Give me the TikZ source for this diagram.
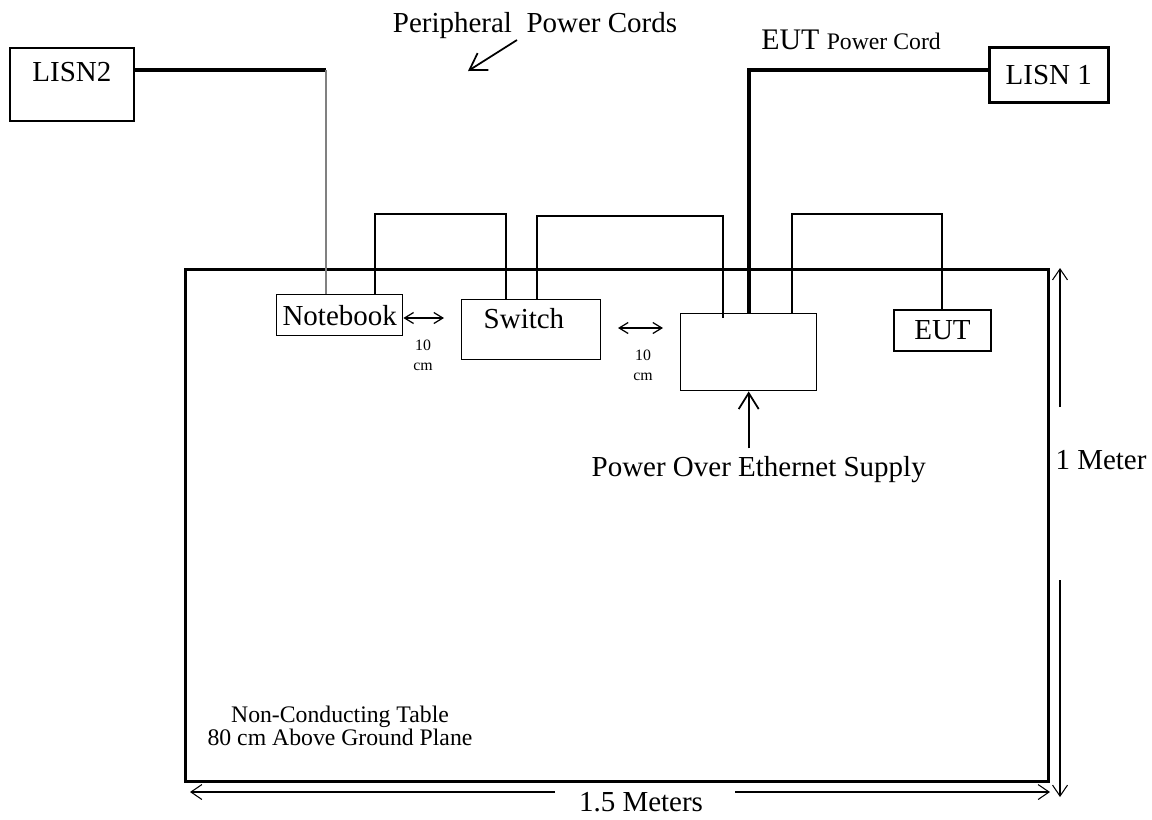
\documentclass[tikz,border=0pt]{standalone}
\usepackage{fontspec}
\setmainfont{Liberation Serif}
\usetikzlibrary{arrows.meta,positioning}

\begin{document}
\begin{tikzpicture}[x=0.02cm, y=-0.02cm, every node/.style={font=\fontsize{16.5}{19.8}\selectfont, inner sep=0pt},
    unit/.style={draw, line width=0.8pt, anchor=north west},
    cord/.style={line width=2.5pt},
    cable/.style={line width=1.1pt},
    gap/.style={line width=0.7pt, {Straight Barb[length=1.8mm,width=2.2mm]}-{Straight Barb[length=1.8mm,width=2.2mm]}},
    span/.style={line width=0.6pt, -{Straight Barb[length=2.2mm,width=3mm]}},
    pointer/.style={line width=1pt, -{Straight Barb[length=3.2mm,width=4mm]}},
    note/.style={font=\fontsize{9}{11.3}\selectfont, align=center}]
  \useasboundingbox (0,0) rectangle (1152,819);

  % table
  \node[draw, line width=1.7pt, anchor=north west, minimum width=17.26cm, minimum height=10.24cm] (table) at (184,268) {};
  \node[font=\fontsize{13.5}{13}\selectfont, align=center] (tabletext) at (340,726) {Non-Conducting Table\\80 cm Above Ground Plane};

  % units
  \node[unit, line width=1pt, minimum width=2.48cm, text height=0.67cm, text depth=0.79cm] (lisn2) at (9,47) {LISN2};
  \node[unit, line width=1.5pt, minimum width=2.38cm, minimum height=1.1cm] (lisn1) at (988,46) {LISN 1};
  \node[unit, minimum width=2.52cm, minimum height=0.82cm] (notebook) at (276,294) {Notebook};
  \node[unit, inner xsep=0.44cm, text width=1.9cm, align=left, text height=0.58cm, text depth=0.62cm] (switch) at (461,299) {Switch};
  \node[unit, minimum width=2.72cm, minimum height=1.54cm] (poe) at (680,313) {};
  \node[unit, line width=1.1pt, minimum width=1.94cm, minimum height=0.82cm] (eut) at (893,309) {EUT};

  % labels
  \node (periph) at (535,26) {Peripheral\ \ Power Cords};
  \node (cordtext) at (851,40) {\fontsize{17}{20}\selectfont EUT \fontsize{13.5}{16}\selectfont Power Cord};
  \node (poetext) [below=1.3cm of poe, xshift=0.2cm] {Power Over Ethernet Supply};
  \node (meter) at (1101,460) {1 Meter};
  \node (tablewidth) at (641,802) {1.5 Meters};
  \node[note] (gap1) at (423,355) {10\\cm};
  \node[note] (gap2) at (643,365) {10\\cm};

  % power cords
  \coordinate (tap) at (326,70);
  \draw[cord] (tap -| lisn2.east) -- (tap);
  \draw[gray, line width=0.8pt] (tap) -- (tap |- notebook.north);
  \draw[cord] (lisn1.west |- tap) -| (poe.north);

  % cables
  \draw[cable] (notebook.north -| 375,0) |- (506,214) -- (switch.north -| 506,0);
  \draw[cable] (switch.north -| 537,0) |- (723,216) -- (723,318);
  \draw[cable] (poe.north -| 792,0) |- (942,214) -- (eut.north -| 942,0);

  % dimensions
  \draw[gap] (notebook.east |- 0,318) -- (444,318);
  \draw[gap] (618,328) -- (663,328);
  \draw[span] (1060,407) -- (1060,268);
  \draw[span] (1060,580) -- (1060,797);
  \draw[span] (555,792) -- (190,792);
  \draw[span] (735,792) -- (1050,792);

  % pointers
  \draw[pointer] (517,40) -- (468,71);
  \draw[pointer] (poetext.north -| poe.south) ++(0,-8) -- (poe.south);
\end{tikzpicture}
\end{document}
